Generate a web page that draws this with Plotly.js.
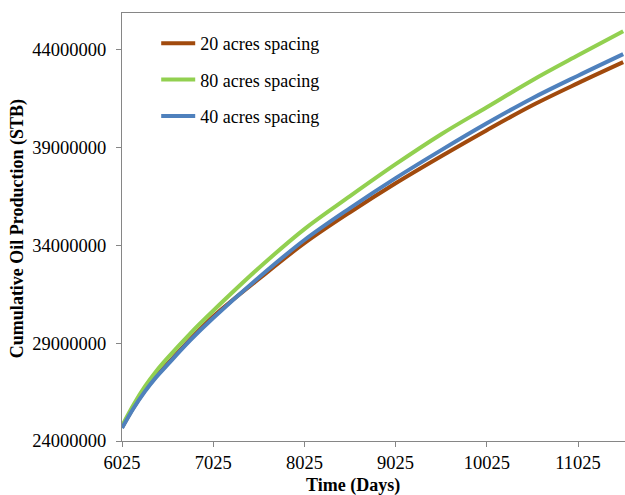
<!DOCTYPE html>
<html>
<head>
<meta charset="utf-8">
<script src="https://cdn.plot.ly/plotly-3.0.1.min.js"></script>
<style>
  html, body { margin: 0; padding: 0; background: #fff; overflow: hidden; }
  #chart { width: 625px; height: 495px; }
</style>
</head>
<body>
<div id="chart"></div>
<script>
// Time in days
const days = [6025, 6150, 6275, 6400, 6525, 6775, 7025, 7525, 8025, 8525, 9025, 9525, 10025, 10525, 11025, 11520];

// Cumulative oil production (STB) for each well spacing
const spacing20 = [24690000, 25700000, 26570000, 27310000, 27950000, 29200000, 30360000, 32270000, 34100000, 35680000, 37160000, 38540000, 39870000, 41140000, 42270000, 43340000];
const spacing80 = [24770000, 25840000, 26770000, 27560000, 28240000, 29500000, 30650000, 32830000, 34820000, 36500000, 38130000, 39660000, 41040000, 42420000, 43690000, 44920000];
const spacing40 = [24660000, 25660000, 26520000, 27260000, 27900000, 29150000, 30280000, 32350000, 34260000, 35890000, 37420000, 38850000, 40220000, 41500000, 42650000, 43750000];

const seriesNames = ['20 acres spacing', '80 acres spacing', '40 acres spacing'];
const seriesColors = ['#A14A0D', '#92D050', '#4F81BD'];

const xTicks = [6025, 7025, 8025, 9025, 10025, 11025];
const yTicks = [24000000, 29000000, 34000000, 39000000, 44000000];

const serif = "'Liberation Serif', 'Times New Roman', serif";
const axisGrey = '#868686';

const seriesData = [spacing20, spacing80, spacing40];
const traces = seriesData.map((vals, i) => ({
  x: days,
  y: vals,
  type: 'scatter',
  mode: 'lines',
  name: seriesNames[i],
  legendgroup: 'g' + i,
  line: { color: seriesColors[i], width: 4, shape: 'spline', smoothing: 1 }
}));

const layout = {
  width: 625,
  height: 495,
  margin: { l: 122, r: 0, t: 13, b: 54 },
  paper_bgcolor: '#fff',
  plot_bgcolor: '#fff',
  font: { family: serif, color: '#000', size: 18 },
  showlegend: true,
  legend: {
    x: 0.068, y: 0.972, xanchor: 'left', yanchor: 'top',
    bgcolor: 'rgba(0,0,0,0)',
    font: { family: serif, size: 18, color: '#000' },
    traceorder: 'grouped',
    tracegroupgap: 10,
    itemwidth: 34
  },
  xaxis: {
    range: [6025, 11540],
    tickmode: 'array',
    tickvals: xTicks,
    ticktext: xTicks.map(String),
    ticks: 'outside', ticklen: 5, tickwidth: 1, tickcolor: axisGrey,
    showline: true, linecolor: axisGrey, linewidth: 1, mirror: true,
    showgrid: false, zeroline: false,
    tickfont: { family: serif, size: 18.5, color: '#000' }
  },
  yaxis: {
    range: [24000000, 45850000],
    tickmode: 'array',
    tickvals: yTicks,
    ticktext: yTicks.map(String),
    ticks: 'outside', ticklen: 5, tickwidth: 1, tickcolor: axisGrey,
    showline: true, linecolor: axisGrey, linewidth: 1, mirror: false,
    showgrid: false, zeroline: false,
    ticklabelstandoff: 6,
    tickfont: { family: serif, size: 18.5, color: '#000' }
  },
  annotations: [
    {
      text: '<b>Time (Days)</b>',
      xref: 'paper', yref: 'paper',
      x: (353 - 122) / 503, y: -0.103,
      xanchor: 'center', yanchor: 'middle',
      showarrow: false,
      font: { family: serif, size: 18, color: '#000' }
    },
    {
      text: '<b>Cumulative Oil Production (STB)</b>',
      xref: 'paper', yref: 'paper',
      x: (17 - 122) / 503, y: 0.495,
      xanchor: 'center', yanchor: 'middle',
      textangle: -90,
      showarrow: false,
      font: { family: serif, size: 18, color: '#000' }
    }
  ]
};

Plotly.newPlot('chart', traces, layout, { displayModeBar: false, staticPlot: true });
</script>
</body>
</html>
